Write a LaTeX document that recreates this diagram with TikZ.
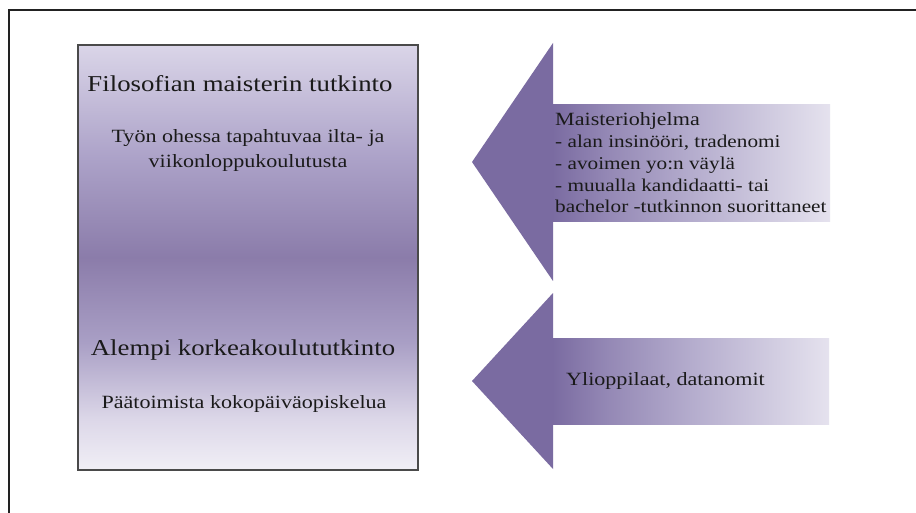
\documentclass[tikz,border=0pt]{standalone}
\usepackage{fontspec}
\setmainfont[FakeStretch=1.18]{Liberation Serif}
\definecolor{framec}{HTML}{222222}
\definecolor{borderc}{HTML}{4A4A4A}
\definecolor{textc}{HTML}{1A1A1A}
\definecolor{headc}{HTML}{7A6BA1}
\definecolor{bbot}{HTML}{F1EFF6}
\definecolor{bb1}{HTML}{DCD7E8}
\definecolor{bb2}{HTML}{A99FC5}
\definecolor{bmid}{HTML}{8B7CAA}
\definecolor{bt1}{HTML}{ADA3C9}
\definecolor{btop}{HTML}{DAD5E8}
\definecolor{s0}{HTML}{7A6BA1}
\definecolor{s1}{HTML}{9488B5}
\definecolor{s2}{HTML}{B4ACCD}
\definecolor{s3}{HTML}{E5E2EE}
\pgfdeclareverticalshading{boxshade}{100bp}{color(0bp)=(bbot); color(25bp)=(bbot); color(31bp)=(bb1); color(40bp)=(bb2); color(50bp)=(bmid); color(62bp)=(bt1); color(75bp)=(btop); color(100bp)=(btop)}
\pgfdeclarehorizontalshading{shaftshade}{100bp}{color(0bp)=(s0); color(25bp)=(s0); color(35bp)=(s1); color(50bp)=(s2); color(75bp)=(s3); color(100bp)=(s3)}
\tikzset{
  txt/.style={inner sep=0pt, text=textc},
  bigtxt/.style={txt, font=\fontsize{22.7}{26}\selectfont},
  midtxt/.style={txt, font=\fontsize{18.7}{22}\selectfont},
  listtxt/.style={txt, font=\fontsize{18}{22}\selectfont, anchor=base west},
}
\begin{document}
\begin{tikzpicture}[x=1pt,y=-1pt]
\useasboundingbox (0,0) rectangle (916,513);
\fill[white] (0,0) rectangle (916,513);
% frame
\draw[framec, line width=2.5pt] (9,513) -- (9,10) -- (916,10);
% degree box
\shade[shading=boxshade] (78,45) rectangle (418,470);
\draw[borderc, line width=1.5pt] (78,45) rectangle (418,470);
% upper arrow
\shade[shading=shaftshade] (552,105) rectangle (830,222);
\fill[headc] (472,162) -- (553,43) -- (553,281) -- cycle;
% lower arrow
\shade[shading=shaftshade] (552,338) rectangle (829,424);
\fill[headc] (472,381) -- (553,293) -- (553,469) -- cycle;
% box texts
\node[bigtxt, anchor=base] (fmt) at (240,92) {Filosofian maisterin tutkinto};
\node[midtxt, anchor=base] (sub1a) at (248,143) {Työn ohessa tapahtuvaa ilta- ja};
\node[midtxt, anchor=base] (sub1b) at (248,168) {viikonloppukoulutusta};
\node[bigtxt, anchor=base] (akt) at (243,355) {Alempi korkeakoulututkinto};
\node[midtxt, anchor=base] (sub2) at (244,408) {Päätoimista kokopäiväopiskelua};
% upper arrow texts
\node[listtxt, font=\fontsize{18.7}{22}\selectfont] (mo) at (555,126) {Maisteriohjelma};
\node[listtxt] (l1) at (555,148) {- alan insinööri, tradenomi};
\node[listtxt] (l2) at (555,170) {- avoimen yo:n väylä};
\node[listtxt] (l3) at (555,192) {- muualla kandidaatti- tai};
\node[listtxt] (l4) at (555,213) {bachelor -tutkinnon suorittaneet};
% lower arrow text
\node[midtxt, anchor=base west] (yd) at (566,385) {Ylioppilaat, datanomit};
\end{tikzpicture}
\end{document}
